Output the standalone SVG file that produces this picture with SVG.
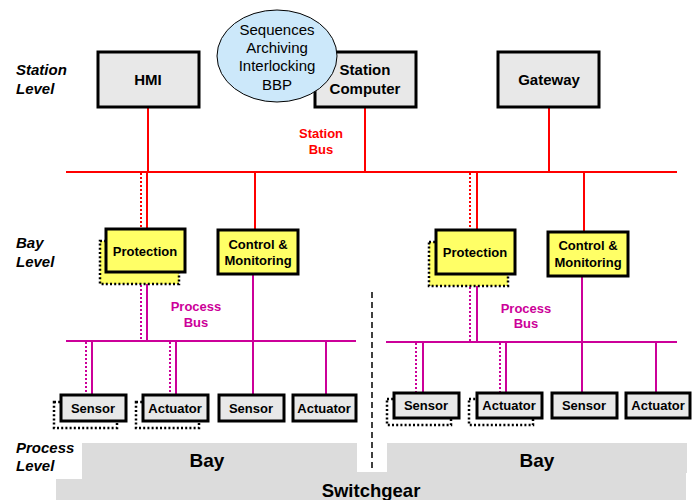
<svg xmlns="http://www.w3.org/2000/svg" width="695" height="500" viewBox="0 0 695 500">
<style>
text{font-family:"Liberation Sans",Arial,sans-serif;font-weight:bold;text-anchor:middle}
.lvl{font-style:italic;text-anchor:start;font-size:15px}
.box{fill:#e8e8e8;stroke:#000;stroke-width:3}
.ied{fill:#ffff66;stroke:#000;stroke-width:3}
.sh{stroke:#000;stroke-width:2.5;stroke-dasharray:2 2.2}
.red{stroke:#ff0000;stroke-width:2;fill:none}
.mag{stroke:#cc0099;stroke-width:2;fill:none}
.dot{stroke-dasharray:2 2}
.t15{font-size:15px}
.t13{font-size:13px}
.ell{font-size:15px;font-weight:normal}
.ground{fill:#dcdcdc}
</style>
<rect width="695" height="500" fill="#fff"/>
<g id="ground">
<rect class="ground" x="56" y="472" width="630" height="28"/>
<rect class="ground" x="82" y="443" width="275" height="30"/>
<rect class="ground" x="387" y="443" width="300" height="30"/>
<rect x="0" y="443" width="82" height="36" fill="#fff"/>
<text x="207" y="467" style="font-size:19px">Bay</text>
<text x="537" y="467" style="font-size:19px">Bay</text>
<text x="371" y="497" style="font-size:18.5px">Switchgear</text>
<line x1="372" y1="292" x2="372" y2="468" stroke="#000" stroke-width="1.5" stroke-dasharray="6 4"/>
</g>
<g id="levels">
<text class="lvl" x="16" y="75">Station</text>
<text class="lvl" x="16" y="94">Level</text>
<text class="lvl" x="16" y="248">Bay</text>
<text class="lvl" x="16" y="267">Level</text>
<text class="lvl" x="16" y="453">Process</text>
<text class="lvl" x="16" y="471">Level</text>
</g>
<g id="connectors">
<line class="red" x1="66" y1="172" x2="677" y2="172"/>
<line class="red" x1="148" y1="107" x2="148" y2="172"/>
<line class="red" x1="365" y1="107" x2="365" y2="172"/>
<line class="red" x1="549" y1="107" x2="549" y2="172"/>
<line class="red" x1="147" y1="172" x2="147" y2="229"/>
<line class="red dot" x1="141" y1="173" x2="141" y2="229"/>
<line class="red" x1="255" y1="172" x2="255" y2="230"/>
<line class="red" x1="477" y1="172" x2="477" y2="230"/>
<line class="red dot" x1="470" y1="173" x2="470" y2="230"/>
<line class="red" x1="584" y1="172" x2="584" y2="232"/>
<text x="321" y="138" class="t13" fill="#ff0000">Station</text>
<text x="321" y="154" class="t13" fill="#ff0000">Bus</text>
<line class="mag" x1="66" y1="341" x2="356" y2="341"/>
<line class="mag" x1="147" y1="272" x2="147" y2="341"/>
<line class="mag dot" x1="141" y1="285" x2="141" y2="341"/>
<line class="mag" x1="253" y1="274" x2="253" y2="395"/>
<line class="mag" x1="92" y1="341" x2="92" y2="395"/>
<line class="mag dot" x1="86" y1="342" x2="86" y2="395"/>
<line class="mag" x1="176" y1="341" x2="176" y2="395"/>
<line class="mag dot" x1="170" y1="342" x2="170" y2="395"/>
<line class="mag" x1="326" y1="341" x2="326" y2="395"/>
<text x="196" y="311" class="t13" fill="#cc0099">Process</text>
<text x="196" y="327" class="t13" fill="#cc0099">Bus</text>
<line class="mag" x1="386" y1="342" x2="677" y2="342"/>
<line class="mag" x1="477" y1="274" x2="477" y2="342"/>
<line class="mag dot" x1="470" y1="287" x2="470" y2="342"/>
<line class="mag" x1="582" y1="276" x2="582" y2="393"/>
<line class="mag" x1="423" y1="342" x2="423" y2="393"/>
<line class="mag dot" x1="416" y1="343" x2="416" y2="393"/>
<line class="mag" x1="506" y1="342" x2="506" y2="393"/>
<line class="mag dot" x1="500" y1="343" x2="500" y2="393"/>
<line class="mag" x1="656" y1="342" x2="656" y2="393"/>
<text x="526" y="313" class="t13" fill="#cc0099">Process</text>
<text x="526" y="328" class="t13" fill="#cc0099">Bus</text>
</g>
<g id="hmi">
<rect class="box" x="98" y="52" width="101" height="55"/>
<text x="148" y="85" class="t15">HMI</text>
</g>
<g id="station-computer">
<rect class="box" x="315" y="52" width="101" height="55"/>
<text x="365" y="75" class="t15">Station</text>
<text x="365" y="94" class="t15">Computer</text>
</g>
<g id="functions">
<ellipse cx="277" cy="56" rx="60" ry="46" fill="#cce8fa" stroke="#000" stroke-width="1"/>
<text x="277" y="35" class="ell">Sequences</text>
<text x="277" y="53" class="ell">Archiving</text>
<text x="277" y="71" class="ell">Interlocking</text>
<text x="277" y="90" class="ell">BBP</text>
</g>
<g id="gateway">
<rect class="box" x="498" y="52" width="101" height="55"/>
<text x="549" y="85" class="t15">Gateway</text>
</g>
<g id="protection-1">
<rect class="sh" x="100" y="241" width="79" height="43" fill="#ffff66"/>
<rect class="ied" x="106" y="229" width="79" height="43"/>
<text x="145" y="256" class="t13">Protection</text>
</g>
<g id="control-1">
<rect class="ied" x="218" y="230" width="80" height="44"/>
<text x="258" y="249" class="t13">Control &amp;</text>
<text x="258" y="265" class="t13">Monitoring</text>
</g>
<g id="protection-2">
<rect class="sh" x="429" y="242" width="79" height="44" fill="#ffff66"/>
<rect class="ied" x="436" y="230" width="79" height="44"/>
<text x="475" y="257" class="t13">Protection</text>
</g>
<g id="control-2">
<rect class="ied" x="548" y="232" width="80" height="44"/>
<text x="588" y="250" class="t13">Control &amp;</text>
<text x="588" y="267" class="t13">Monitoring</text>
</g>
<g id="sensor-1">
<rect class="sh" x="54" y="402" width="63" height="26" fill="#fff"/>
<rect class="box" x="61" y="395" width="65" height="26"/>
<text x="93" y="413" class="t13">Sensor</text>
</g>
<g id="actuator-1">
<rect class="sh" x="136" y="402" width="63" height="26" fill="#fff"/>
<rect class="box" x="143" y="395" width="65" height="26"/>
<text x="175" y="413" class="t13">Actuator</text>
</g>
<g id="sensor-2">
<rect class="box" x="219" y="395" width="65" height="26"/>
<text x="251" y="413" class="t13">Sensor</text>
</g>
<g id="actuator-2">
<rect class="box" x="293" y="395" width="63" height="26"/>
<text x="324" y="413" class="t13">Actuator</text>
</g>
<g id="sensor-3">
<rect class="sh" x="387" y="399" width="64" height="26" fill="#fff"/>
<rect class="box" x="394" y="393" width="65" height="25"/>
<text x="426" y="410" class="t13">Sensor</text>
</g>
<g id="actuator-3">
<rect class="sh" x="469" y="399" width="64" height="26" fill="#fff"/>
<rect class="box" x="477" y="393" width="65" height="25"/>
<text x="509" y="410" class="t13">Actuator</text>
</g>
<g id="sensor-4">
<rect class="box" x="552" y="393" width="65" height="25"/>
<text x="584" y="410" class="t13">Sensor</text>
</g>
<g id="actuator-4">
<rect class="box" x="626" y="393" width="64" height="25"/>
<text x="658" y="410" class="t13">Actuator</text>
</g>
</svg>
